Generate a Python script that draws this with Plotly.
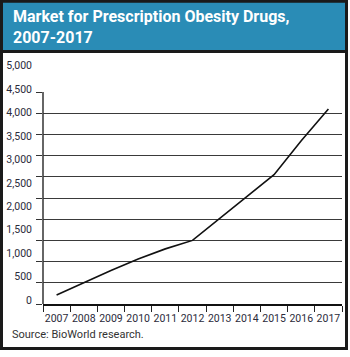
import plotly.graph_objects as go

years = ["2007", "2008", "2009", "2010", "2011", "2012", "2013", "2014", "2015", "2016", "2017"]
market = [210, 500, 790, 1060, 1300, 1500, 2010, 2520, 3050, 3850, 4600]
grid_values = [0, 500, 1000, 1500, 2000, 2500, 3000, 3500, 4000, 4500]
label_values = [0, 500, 1000, 1500, 2000, 2500, 3000, 3500, 4000, 4500, 5000]
label_text = ["{:,}".format(v) for v in label_values]
title_lines = ["Market for Prescription Obesity Drugs,", "2007-2017"]
source_text = "Source: BioWorld research."

W, H = 350, 357
L, R, T, B = 43, 342, 60, 304


def px(x):
    return (x - L) / (R - L)


def py(y):
    return (B - y) / (B - T)


y_top = 5000
main_range = [0, y_top * (B - T) / 212.0]
# label axis: labels are spaced slightly wider than gridlines in the original
lab_scale = 0.04686
lab_zero_px = 300
lab_range = [(lab_zero_px - B) / lab_scale, (lab_zero_px - T) / lab_scale]

fig = go.Figure()
fig.add_trace(go.Scatter(x=years, y=market, mode="lines",
                         line=dict(color="#111111", width=1.6),
                         hoverinfo="skip", showlegend=False))
# invisible trace that anchors the label axis
fig.add_trace(go.Scatter(x=years[:1], y=label_values[:1], yaxis="y2", mode="lines",
                         line=dict(width=0), opacity=0, hoverinfo="skip",
                         showlegend=False))

tick_font = dict(family="Roboto, Arial, sans-serif", size=10.5, color="#2b2b3b")

fig.update_layout(
    width=W, height=H,
    margin=dict(l=L, r=W - R, t=T, b=H - B, autoexpand=False),
    paper_bgcolor="white", plot_bgcolor="white",
    showlegend=False,
    xaxis=dict(type="category", tickson="boundaries", ticks="outside", ticklen=6,
               range=[-0.5, len(years) - 0.5], tickangle=0, automargin=False,
               ticklabelstandoff=4,
               tickcolor="#222", tickwidth=1, showline=True, linecolor="#111",
               linewidth=1.5, showgrid=False, zeroline=False, tickfont=tick_font,
               fixedrange=True),
    yaxis=dict(range=main_range, tickmode="array", tickvals=grid_values,
               showticklabels=False, ticks="outside", ticklen=6, tickcolor="#333",
               showgrid=True, gridcolor="#3a3a3a", gridwidth=1, zeroline=False,
               showline=False, automargin=False,
               minor=dict(tickmode="array", tickvals=[y_top], ticks="outside",
                          ticklen=6, tickcolor="#333", showgrid=False),
               fixedrange=True),
    yaxis2=dict(range=lab_range, overlaying="y", side="left", anchor="x",
                tickmode="array", tickvals=label_values, ticktext=label_text,
                ticks="", showgrid=False, zeroline=False, showline=False,
                automargin=False,
                tickfont=tick_font, ticklabelstandoff=10, fixedrange=True),
)

shapes = [
    dict(type="rect", xref="paper", yref="paper", x0=px(0), x1=px(348),
         y0=py(51), y1=py(0), fillcolor="#2a8cb6", line=dict(width=0), layer="below"),
    dict(type="line", xref="paper", yref="paper", x0=px(0), x1=px(348),
         y0=py(51.5), y1=py(51.5), line=dict(color="#1a1a1a", width=3)),
    dict(type="rect", xref="paper", yref="paper", x0=px(1.5), x1=px(346.5),
         y0=py(348.5), y1=py(1.2), line=dict(color="#1a1a1a", width=3),
         fillcolor="rgba(0,0,0,0)"),
    dict(type="line", xref="paper", yref="y", x0=0, x1=0, y0=0, y1=y_top,
         line=dict(color="#333", width=1.5)),
]
fig.update_layout(shapes=shapes)

title_font = dict(family="Roboto, Arial, sans-serif", size=16, color="white", weight="bold")
ann = [
    dict(text="<br>".join(title_lines), xref="paper", yref="paper", x=px(11), y=py(27),
         xanchor="left", yanchor="middle", align="left", showarrow=False, font=title_font),
    dict(text=source_text, xref="paper", yref="paper", x=px(10), y=py(334),
         xanchor="left", yanchor="middle", showarrow=False,
         font=dict(family="Roboto, Arial, sans-serif", size=11, color="#333333")),
]
fig.update_layout(annotations=ann)

fig.write_html("out.html", config={"displayModeBar": False})
